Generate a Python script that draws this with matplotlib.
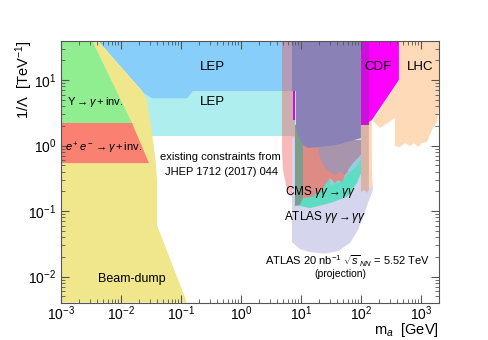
import matplotlib
matplotlib.use('Agg')
import matplotlib.pyplot as plt
from matplotlib.ticker import LogLocator, NullFormatter, FixedLocator

plt.rcParams['font.family'] = ['Liberation Sans', 'DejaVu Sans']
plt.rcParams['mathtext.fontset'] = 'custom'
plt.rcParams['mathtext.rm'] = 'Liberation Sans'
plt.rcParams['mathtext.it'] = 'Liberation Sans:italic'
plt.rcParams['mathtext.bf'] = 'Liberation Sans:bold'

# ---------------- axis ticks ----------------
x_major_ticks = [1e-3, 1e-2, 1e-1, 1e0, 1e1, 1e2, 1e3]
y_major_ticks = [1e-2, 1e-1, 1e0, 1e1]

# ---------------- region boundaries (m_a [GeV], 1/Lambda [TeV^-1]) ----------------
lep_low_x = [0.01, 8.25, 8.25, 0.01]
lep_low_y = [1.40, 1.40, 6.79, 6.79]

lep_up_x = [0.0041, 8.25, 8.25, 0.158, 0.126, 0.033, 0.024]
lep_up_y = [40, 40, 6.79, 6.79, 5.26, 5.26, 6.33]

beam_x = [0.001, 0.001, 0.0041, 0.024, 0.027, 0.033, 0.038, 0.0398, 0.0398, 0.126]
beam_y = [0.004, 40, 40, 6.33, 4.95, 1.55, 0.54, 0.30, 0.061, 0.004]

ups_x = [0.001, 0.0033, 0.0152, 0.001]
ups_y = [40, 40, 2.21, 2.21]

ee_x = [0.001, 0.0152, 0.0293, 0.001]
ee_y = [2.21, 2.21, 0.54, 0.54]

pink_x = [4.82, 7.94, 7.94, 6.56, 5.62, 5.01, 4.82]
pink_y = [40, 40, 0.147, 0.175, 0.249, 0.423, 0.853]

proj_x = [7.08, 100, 147, 158, 131, 112, 89.1, 65.6, 41.4, 25.1, 14.1, 9.62, 7.08]
proj_y = [1.30, 1.30, 0.853, 0.209, 0.132, 0.0869, 0.0513, 0.0324, 0.0245, 0.0224, 0.0237, 0.0263, 0.0336]

atlas_x = [7.94, 117, 117, 108, 85.8, 58.5, 30.4, 14.1, 7.94]
atlas_y = [1.21, 1.21, 0.667, 0.453, 0.267, 0.164, 0.132, 0.111, 0.124]

lblue_x = [30.4, 108, 108, 89.1, 58.5, 44.7, 30.4]
lblue_y = [1.21, 1.21, 0.667, 0.504, 0.355, 0.277, 0.249]

cms_x = [10.8, 65.6, 60.7, 54.1, 48.2, 41.4, 36.9, 30.4, 27.1, 23.3, 20.7, 18.5, 15.8, 10.8]
cms_y = [1.21, 1.21, 0.394, 0.355, 0.277, 0.297, 0.267, 0.319, 0.277, 0.224, 0.188, 0.195, 0.164, 0.158]

mauve_x = [17.1, 104, 104, 89.1, 73.6, 60.7, 54.1, 44.7, 36.9, 30.4, 25.1, 20.7, 19.2]
mauve_y = [1.21, 1.21, 0.768, 0.644, 0.54, 0.423, 0.355, 0.394, 0.355, 0.394, 0.453, 0.644, 0.948]

grey_x = [7.94, 10.8, 10.8, 9.62, 7.94]
grey_y = [2.06, 2.06, 0.158, 0.124, 0.119]

purple_x = [7.08, 100, 100, 39.8, 19.2, 13.1, 10.8, 8.91, 8.25, 8.25, 7.08]
purple_y = [40, 40, 1.30, 1.02, 0.948, 0.916, 1.02, 1.45, 2.06, 6.79, 6.79]

sliver_x = [7.36, 8.1, 8.1, 7.36]
sliver_y = [2.45, 2.45, 6.79, 6.79]

cdf_x = [100, 430, 430, 152, 141, 100]
cdf_y = [40, 40, 10, 2.45, 2.06, 2.06]

cdf_dark_x = [100, 136, 136, 100]
cdf_dark_y = [40, 40, 2.06, 2.06]

lhc_x = [430, 2000, 2000, 1849, 1585, 1413, 1259, 1039, 891, 764, 656, 541, 447, 369, 369, 207, 158, 430]
lhc_y = [40, 40, 3.74, 2.28, 1.85, 1.45, 1.13, 1.09, 0.948, 1.09, 0.982, 1.09, 0.948, 0.982, 2.63, 1.85, 2.37, 10]

tan_x = [100, 136, 136, 125, 115, 100]
tan_y = [2.06, 2.06, 0.21, 0.19, 0.21, 0.195]

peachband_x = [136, 152, 152, 147, 141, 136]
peachband_y = [2.30, 2.45, 0.25, 0.22, 0.24, 0.232]

regions = [
    (lep_low_x, lep_low_y, '#AFEEEE', 1.0),
    (lep_up_x, lep_up_y, '#87CEFA', 1.0),
    (beam_x, beam_y, '#F0E68C', 1.0),
    (ups_x, ups_y, '#90EE90', 1.0),
    (ee_x, ee_y, '#FA8072', 1.0),
    (pink_x, pink_y, '#F35858', 0.42),
    (proj_x, proj_y, '#D5D5EE', 1.0),
    (atlas_x, atlas_y, '#5EDDC5', 1.0),
    (lblue_x, lblue_y, '#98CCDF', 1.0),
    (cms_x, cms_y, '#DE8A85', 1.0),
    (mauve_x, mauve_y, '#A895AD', 1.0),
    (grey_x, grey_y, '#7C9E8C', 1.0),
    (purple_x, purple_y, '#8A82B6', 1.0),
    (sliver_x, sliver_y, '#E000E0', 1.0),
    (cdf_x, cdf_y, '#FF00FF', 1.0),
    (cdf_dark_x, cdf_dark_y, '#CC10DA', 1.0),
    (lhc_x, lhc_y, '#FFDAB9', 1.0),
    (tan_x, tan_y, '#D8B4A6', 1.0),
    (peachband_x, peachband_y, '#FFD8B5', 1.0),
]

labels = [
    (0.33, 16.0, 'LEP', 'center', 9.5),
    (0.33, 4.56, 'LEP', 'center', 9.5),
    (0.00128, 4.56, r'$\Upsilon \rightarrow \gamma + $inv.', 'left', 8),
    (0.00115, 0.91, r'$e^+e^- \rightarrow \gamma + $inv.', 'left', 8),
    (0.46, 0.675, 'existing constraints from', 'center', 8),
    (0.48, 0.398, 'JHEP 1712 (2017) 044', 'center', 8),
    (5.5, 0.193, r'CMS $\gamma\gamma \rightarrow \gamma\gamma$', 'left', 8.5),
    (5.3, 0.080, r'ATLAS $\gamma\gamma \rightarrow \gamma\gamma$', 'left', 8.5),
    (60.0, 0.0170, r'ATLAS 20 nb$^{-1}$ $\sqrt{s}_{NN}$ = 5.52 TeV', 'center', 8),
    (45.0, 0.0108, '(projection)', 'center', 7.5),
    (190, 16.0, 'CDF', 'center', 9.5),
    (960, 16.0, 'LHC', 'center', 9.5),
    (0.0152, 0.0092, 'Beam-dump', 'center', 9),
]

fig = plt.figure(figsize=(4.88, 3.40), dpi=100)
ax = fig.add_axes([0.125, 0.110, 0.7746, 0.7706])
ax.set_xscale('log')
ax.set_yscale('log')

for x, y, c, a in regions:
    ax.fill(x, y, color=c, alpha=a, lw=0)

for x, y, s, ha, fs in labels:
    ax.text(x, y, s, ha=ha, va='center', fontsize=fs, color='black')

ax.set_xlim(1e-3, 2e3)
ax.set_ylim(4e-3, 40)

ax.xaxis.set_major_locator(FixedLocator(x_major_ticks))
ax.yaxis.set_major_locator(FixedLocator(y_major_ticks))
for axis in (ax.xaxis, ax.yaxis):
    axis.set_minor_locator(LogLocator(base=10, subs=range(2, 10), numticks=20))
    axis.set_minor_formatter(NullFormatter())

ax.tick_params(which='both', direction='in', top=True, right=True, colors='#555555', labelcolor='black')
ax.tick_params(which='major', length=6, width=0.8, labelsize=10)
ax.tick_params(axis='x', which='major', pad=1.0)
ax.tick_params(which='minor', length=3, width=0.6)
for sp in ax.spines.values():
    sp.set_color('#555555')

ax.set_ylabel(r'1/$\Lambda$  [TeV$^{-1}$]', fontsize=10.5, loc='top')
ax.yaxis.set_label_coords(-0.069, 1.0)
ax.set_xlabel(r'm$_a$  [GeV]', fontsize=10.5, loc='right')
ax.xaxis.set_label_coords(1.0, -0.072)

fig.savefig('out.png', dpi=100)
